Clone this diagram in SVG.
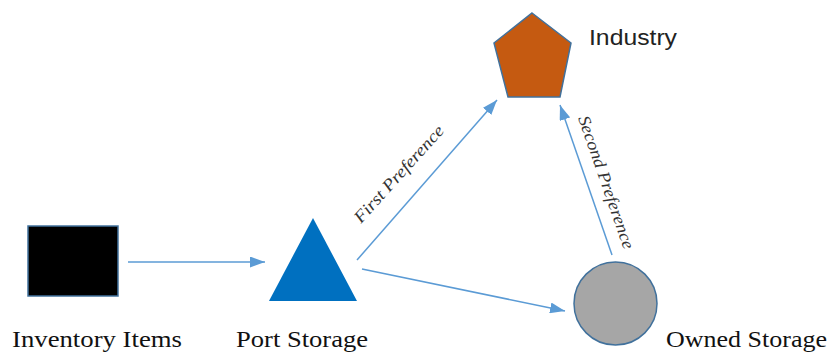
<svg xmlns="http://www.w3.org/2000/svg" width="832" height="354" viewBox="0 0 832 354">
  <style>
    .shape { stroke: #41719C; stroke-width: 1.5; }
    .edge { stroke: #5B9BD5; stroke-width: 1.5; fill: none; marker-end: url(#arrow); }
    .node-label { font-family: 'Liberation Serif', 'Times New Roman', Times, serif; font-size: 24px; fill: #111; }
    .sans { font-family: 'Liberation Sans', Arial, sans-serif; font-size: 22px; fill: #222; }
    .edge-label { font-family: 'Liberation Serif', 'Times New Roman', Times, serif; font-style: italic; font-size: 17px; fill: #333; }
  </style>
  <defs>
    <marker id="arrow" markerUnits="userSpaceOnUse" markerWidth="15" markerHeight="11" refX="15" refY="5.5" orient="auto">
      <path d="M0,0 L15,5.5 L0,11 z" fill="#5B9BD5"/>
    </marker>
  </defs>

  <!-- flows between the storage points -->
  <g id="connectors">
    <line class="edge" x1="128" y1="262" x2="265" y2="262"/>
    <line class="edge" x1="357" y1="260" x2="497" y2="100"/>
    <line class="edge" x1="362" y1="269" x2="565" y2="311"/>
    <line class="edge" x1="612" y1="255" x2="560" y2="105"/>
    <text class="edge-label" transform="translate(361,224) rotate(-47.8)" textLength="125" lengthAdjust="spacingAndGlyphs">First Preference</text>
    <text class="edge-label" transform="translate(578,118) rotate(70.8)" textLength="140" lengthAdjust="spacingAndGlyphs">Second Preference</text>
  </g>

  <g id="inventory-items">
    <rect class="shape" x="28" y="226" width="90" height="70" fill="#000"/>
    <text class="node-label" x="12" y="347" textLength="170" lengthAdjust="spacingAndGlyphs">Inventory Items</text>
  </g>

  <g id="port-storage">
    <polygon points="313,218 357,301 269,301" fill="#0070C0"/>
    <text class="node-label" x="236" y="347" textLength="132" lengthAdjust="spacingAndGlyphs">Port Storage</text>
  </g>

  <g id="industry">
    <polygon class="shape" points="532,13 571,43 560,97 508,97 494,43" fill="#C55A11"/>
    <text class="sans" x="589" y="45" textLength="88" lengthAdjust="spacingAndGlyphs">Industry</text>
  </g>

  <g id="owned-storage">
    <circle class="shape" cx="615.5" cy="303.5" r="41.5" fill="#A6A6A6"/>
    <text class="node-label" x="666" y="347" textLength="161" lengthAdjust="spacingAndGlyphs">Owned Storage</text>
  </g>
</svg>
